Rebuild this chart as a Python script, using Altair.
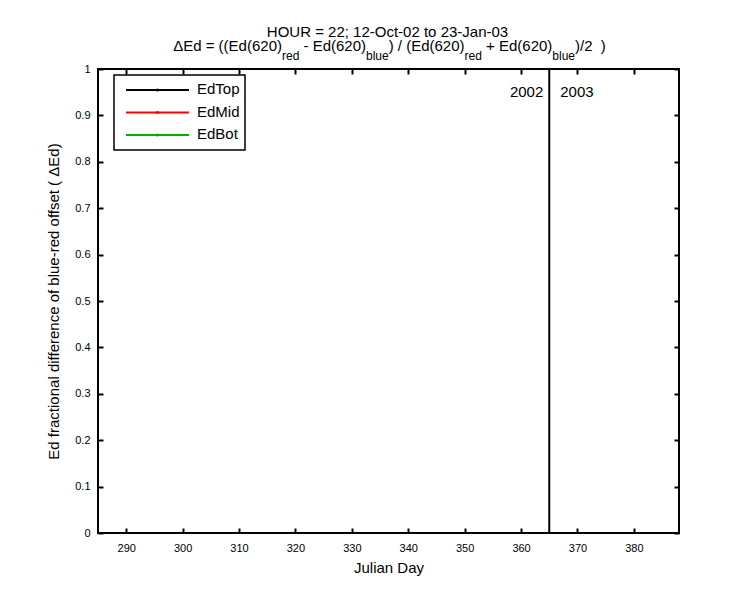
import altair as alt
import pandas as pd

# ---- data ----
series = ["EdTop", "EdMid", "EdBot"]
series_colors = ["#000000", "#ff0000", "#00b000"]
x_domain = [285, 388]
y_domain = [0, 1]
x_ticks = [290, 300, 310, 320, 330, 340, 350, 360, 370, 380]
y_ticks = [0, 0.1, 0.2, 0.3, 0.4, 0.5, 0.6, 0.7, 0.8, 0.9, 1.0]
year_boundary = [365]
year_labels = ["2002", "2003"]
year_label_y = [0.94, 0.94]
title_line1 = "HOUR = 22; 12-Oct-02 to 23-Jan-03"
title_line2 = [("ΔEd = ((Ed(620)", False), ("red", True), (" - Ed(620)", False),
               ("blue", True), (") / (Ed(620)", False), ("red", True),
               (" + Ed(620)", False), ("blue", True), (")/2", False), ("  )", False)]
x_title = "Julian Day"
y_title = "Ed fractional difference of blue-red offset ( ΔEd)"

# no samples exist for this hour: every series is empty
line_df = pd.DataFrame({"day": [None] * len(series), "value": [None] * len(series),
                        "series": series})
rule_df = pd.DataFrame({"day": year_boundary})
year_df = pd.DataFrame({"day": year_boundary * 2, "value": year_label_y, "label": year_labels})
legend_df = pd.DataFrame({"series": series})

W, H = 581, 464
FONT = "Arial"
BLACK = "#000000"

xs = alt.Scale(domain=x_domain, nice=False, zero=False)
ys = alt.Scale(domain=y_domain, nice=False, zero=False)
color_scale = alt.Scale(domain=series, range=series_colors)

common_axis = dict(domain=False, grid=False, tickColor=BLACK, tickWidth=2, tickSize=5,
                   offset=-5, labelColor=BLACK, labelFont=FONT, labelFontSize=11,
                   titleFont=FONT, titleFontSize=15, titleFontWeight="normal",
                   titleColor=BLACK)

lines = alt.Chart(line_df).mark_line(strokeWidth=2).encode(
    x=alt.X("day:Q", scale=xs, axis=alt.Axis(orient="bottom", values=x_ticks, format="d",
                                             title=x_title, labelPadding=9, titlePadding=7,
                                             **common_axis)),
    y=alt.Y("value:Q", scale=ys, axis=alt.Axis(orient="left", values=y_ticks, format="~g",
                                               title=y_title, labelPadding=8, titlePadding=13,
                                               **common_axis)),
    color=alt.Color("series:N", scale=color_scale, legend=None),
)

frame_axes = alt.Chart(line_df).mark_line().encode(
    x=alt.X("day:Q", scale=xs, axis=alt.Axis(orient="top", values=x_ticks, labels=False,
                                             title=None, **common_axis)),
    y=alt.Y("value:Q", scale=ys, axis=alt.Axis(orient="right", values=y_ticks, labels=False,
                                               title=None, **common_axis)),
)

rule = alt.Chart(rule_df).mark_rule(color=BLACK, strokeWidth=2).encode(
    x=alt.X("day:Q", scale=xs, axis=None)
)

year_left = alt.Chart(year_df).transform_filter(alt.datum.label == year_labels[0]).mark_text(
    align="right", baseline="alphabetic", dx=-6, font=FONT, fontSize=15, color=BLACK
).encode(x=alt.X("day:Q", scale=xs, axis=None), y=alt.Y("value:Q", scale=ys, axis=None),
         text="label:N")
year_right = alt.Chart(year_df).transform_filter(alt.datum.label == year_labels[1]).mark_text(
    align="left", baseline="alphabetic", dx=11, font=FONT, fontSize=15, color=BLACK
).encode(x=alt.X("day:Q", scale=xs, axis=None), y=alt.Y("value:Q", scale=ys, axis=None),
         text="label:N")

# ---- legend box (MATLAB style) ----
leg_y = alt.Y("series:N", scale=alt.Scale(type="point", domain=series, range=[21, 66],
                                          padding=0), axis=None)
legend_box = alt.Chart(pd.DataFrame({"k": [0]})).mark_rect(
    fill="#ffffff", stroke=BLACK, strokeWidth=1.5
).encode(x=alt.value(16), x2=alt.value(147), y=alt.value(6), y2=alt.value(81))
legend_lines = alt.Chart(legend_df).mark_rule(strokeWidth=2).encode(
    x=alt.value(28), x2=alt.value(91), y=leg_y,
    color=alt.Color("series:N", scale=color_scale, legend=None))
legend_dots = alt.Chart(legend_df).mark_point(filled=True, size=10, opacity=1).encode(
    x=alt.value(59.5), y=leg_y,
    color=alt.Color("series:N", scale=color_scale, legend=None))
legend_text = alt.Chart(legend_df).mark_text(
    align="left", baseline="middle", dx=0, dy=-1, font=FONT, fontSize=15, color=BLACK
).encode(x=alt.value(99), y=leg_y, text="series:N")

# ---- title (with subscripts) built from text pieces ----
ARIAL = {' ': 278, '(': 333, ')': 333, '/': 278, '=': 584, '+': 584, '-': 333, ';': 278,
         'E': 667, 'd': 556, 'r': 333, 'e': 556, 'b': 556, 'l': 222, 'u': 556, 'Δ': 668}
for ch in "0123456789":
    ARIAL[ch] = 556

def tw(s, size):
    return sum(ARIAL.get(c, 556) for c in s) * size / 1000.0

MAIN, SUB = 15, 12
cx = W / 2 + 1
title_layers = [
    alt.Chart(pd.DataFrame({"t": [title_line1]})).mark_text(
        align="center", baseline="alphabetic", font=FONT, fontSize=MAIN, color=BLACK
    ).encode(x=alt.value(cx - 2), y=alt.value(-32), text="t:N")
]
total = sum(tw(s, SUB if sub else MAIN) for s, sub in title_line2)
xpos = cx - total / 2
for s, sub in title_line2:
    size = SUB if sub else MAIN
    lead = len(s) - len(s.lstrip(" "))
    txt = s.strip(" ")
    title_layers.append(
        alt.Chart(pd.DataFrame({"t": [txt]})).mark_text(
            align="left", baseline="alphabetic", font=FONT, fontSize=size, color=BLACK
        ).encode(x=alt.value(xpos + tw(" " * lead, size)),
                 y=alt.value(-9 if sub else -18), text="t:N")
    )
    xpos += tw(s, size)

chart = alt.layer(
    lines, frame_axes, rule, year_left, year_right,
    legend_box, legend_lines, legend_dots, legend_text, *title_layers
).resolve_axis(
    x="independent", y="independent"
).resolve_scale(
    y="independent"
).properties(
    width=W, height=H,
    autosize=alt.AutoSizeParams(type="none"),
    padding={"left": 90, "top": 61, "right": 50, "bottom": 62},
    background="#ffffff",
).configure_view(stroke=BLACK, strokeWidth=2)

chart.save("out.html", embed_options={"renderer": "svg", "actions": False})
